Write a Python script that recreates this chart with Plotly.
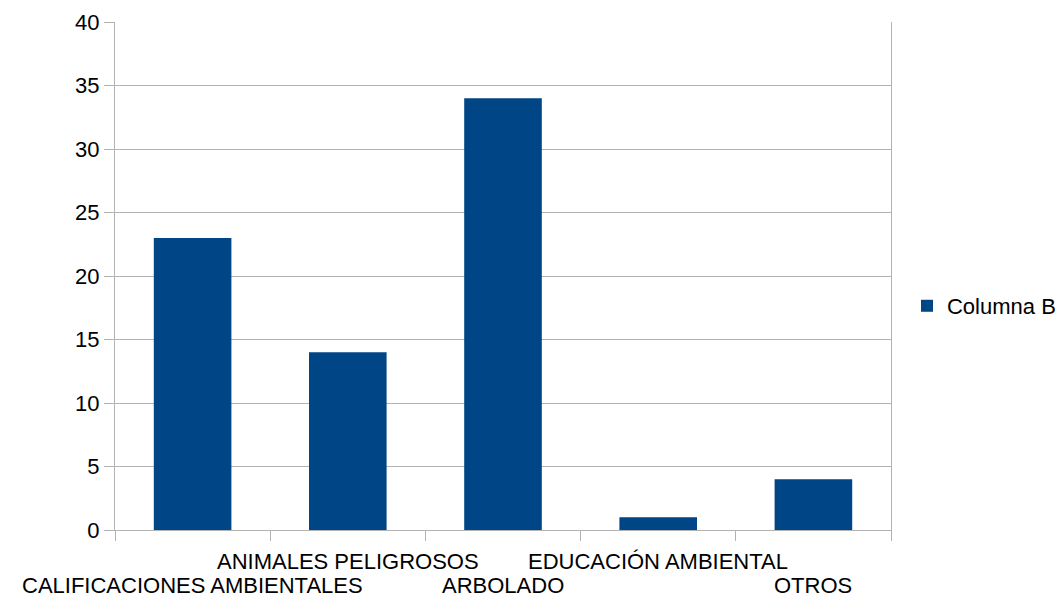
import plotly.graph_objects as go

categories = [
    "CALIFICACIONES AMBIENTALES",
    "ANIMALES PELIGROSOS",
    "ARBOLADO",
    "EDUCACIÓN AMBIENTAL",
    "OTROS",
]
values = [23, 14, 34, 1, 4]
series_name = "Columna B"

grid = "#b3b3b3"
font = "Liberation Sans, Arial, sans-serif"
fsize = 22

fig = go.Figure(
    go.Bar(
        x=categories,
        y=values,
        name=series_name,
        marker=dict(color="#004586", line=dict(width=0)),
        width=0.5,
        showlegend=True,
    )
)

# category labels in two staggered rows below the axis
for i, cat in enumerate(categories):
    fig.add_annotation(
        x=i,
        y=0,
        xref="x",
        yref="paper",
        text=cat,
        showarrow=False,
        xanchor="center",
        yanchor="middle",
        yshift=-55 if i % 2 == 0 else -31,
        font=dict(family=font, size=fsize, color="#000000"),
    )

fig.update_layout(
    width=1060,
    height=598,
    margin=dict(l=115, r=169, t=22, b=68, autoexpand=False),
    paper_bgcolor="white",
    plot_bgcolor="white",
    font=dict(family=font, size=fsize, color="#000000"),
    showlegend=True,
    legend=dict(
        x=1.0206,
        y=0.441,
        xanchor="left",
        yanchor="middle",
        font=dict(size=fsize),
        bgcolor="rgba(0,0,0,0)",
    ),
)

fig.update_xaxes(
    type="category",
    categoryorder="array",
    categoryarray=categories,
    range=[-0.5, len(categories) - 0.5],
    tickson="boundaries",
    ticks="outside",
    ticklen=10,
    tickcolor=grid,
    showticklabels=False,
    showline=True,
    linecolor=grid,
    showgrid=False,
    automargin=False,
)

fig.update_yaxes(
    range=[0, 40],
    dtick=5,
    ticks="outside",
    ticklen=10,
    tickcolor=grid,
    showline=True,
    mirror=True,
    linecolor=grid,
    gridcolor=grid,
    zeroline=False,
    automargin=False,
    tickfont=dict(size=fsize),
)

fig.write_html("out.html")
